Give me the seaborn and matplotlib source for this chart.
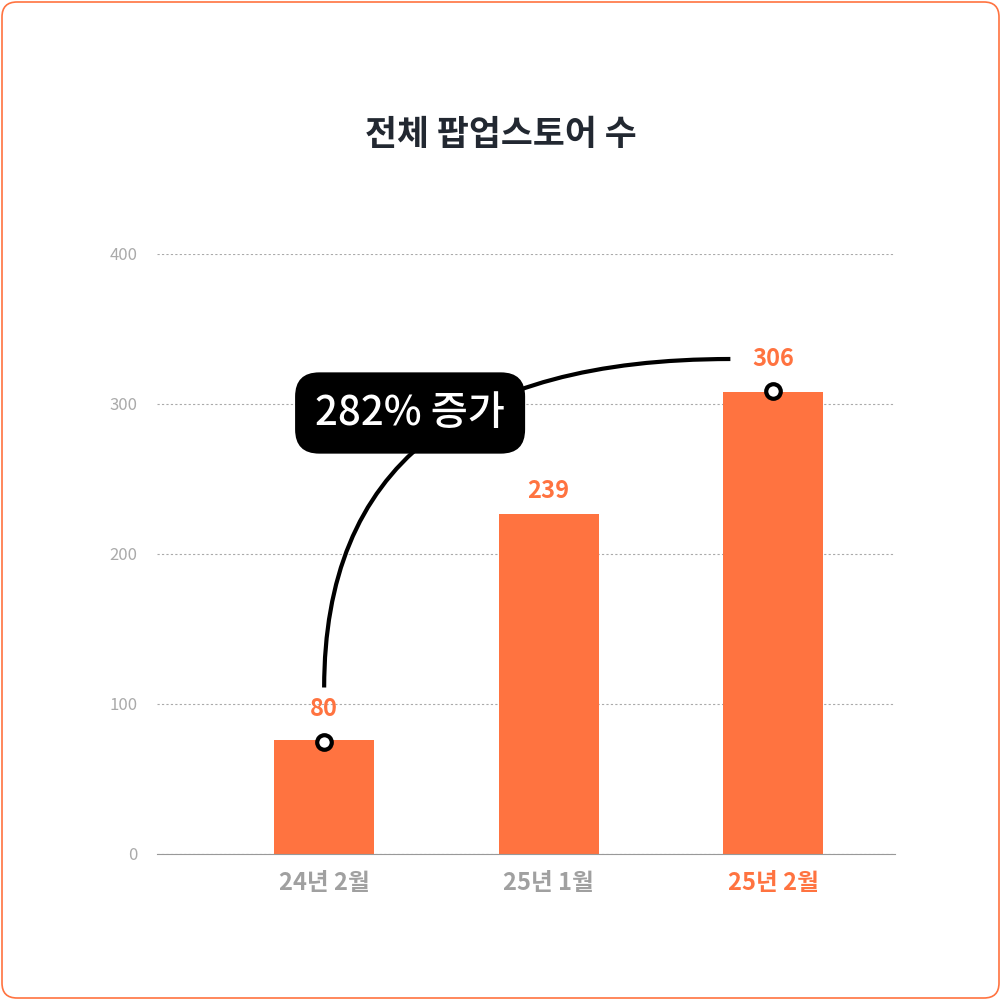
import matplotlib
matplotlib.use("Agg")
import matplotlib.pyplot as plt
import seaborn as sns
import pandas as pd
from matplotlib.patches import FancyBboxPatch, PathPatch
from matplotlib.path import Path

plt.rcParams["font.family"] = ["Noto Sans CJK KR", "Noto Sans CJK JP", "Noto Sans CJK SC", "DejaVu Sans"]

categories = ["24년 2월", "25년 1월", "25년 2월"]
bar_heights = [76, 227, 308]
value_labels = ["80", "239", "306"]
y_ticks = [0, 100, 200, 300, 400]
orange = "#FF7340"

df = pd.DataFrame({"cat": categories, "val": bar_heights})

fig = plt.figure(figsize=(10.01, 10), dpi=100)
fig.patches.append(FancyBboxPatch((0.002, 0.002), 0.996, 0.996, boxstyle="round,pad=0,rounding_size=0.015",
                                  transform=fig.transFigure, fc="none", ec=orange, lw=1.2, zorder=-1))
ax = fig.add_axes([0.157, 0.146, 0.737, 0.6])
sns.barplot(data=df, x="cat", y="val", color=orange, saturation=1, width=0.445, ax=ax, zorder=2)
ax.set_xlim(-0.744, 2.543)
ax.set_ylim(0, 400)
ax.set_yticks(y_ticks)
ax.set_yticklabels([str(v) for v in y_ticks], color="#aaaaaa", fontsize=12)
ax.set_xlabel("")
ax.set_ylabel("")
ax.patch.set_alpha(0)
for s in ["top", "right", "left"]:
    ax.spines[s].set_visible(False)
ax.spines["bottom"].set_color("#999999")
ax.tick_params(axis="y", length=0, pad=14)
ax.tick_params(axis="x", length=0, pad=12)
ax.grid(axis="y", linestyle=(0, (2, 2)), color="#aaaaaa", lw=0.8, zorder=0)
for i, lab in enumerate(ax.get_xticklabels()):
    lab.set_fontsize(17)
    lab.set_fontweight("bold")
    lab.set_color(orange if i == 2 else "#a0a0a0")

label_y = [97, 242, 330]
for i, (t, y) in enumerate(zip(value_labels, label_y)):
    ax.text(i, y, t, ha="center", va="center", fontsize=17, fontweight="bold", color=orange, zorder=4)

# curve
path = Path([(0, 111), (0, 330), (1.81, 330)], [Path.MOVETO, Path.CURVE3, Path.CURVE3])
ax.add_patch(PathPatch(path, fc="none", ec="black", lw=3, zorder=3))
ax.scatter([0, 2], [75, 309], s=110, facecolor="white", edgecolor="black", linewidth=3, zorder=5)

ax.text(0.383, 294, "282% 증가", ha="center", va="center", fontsize=29, fontweight="medium",
        color="white", zorder=6,
        bbox=dict(boxstyle="round,pad=0.5,rounding_size=0.6", fc="black", ec="none"))

fig.text(0.5, 0.865, "전체 팝업스토어 수", ha="center", va="center", fontsize=25,
         fontweight="bold", color="#222831")

fig.savefig("out.png", dpi=100)
